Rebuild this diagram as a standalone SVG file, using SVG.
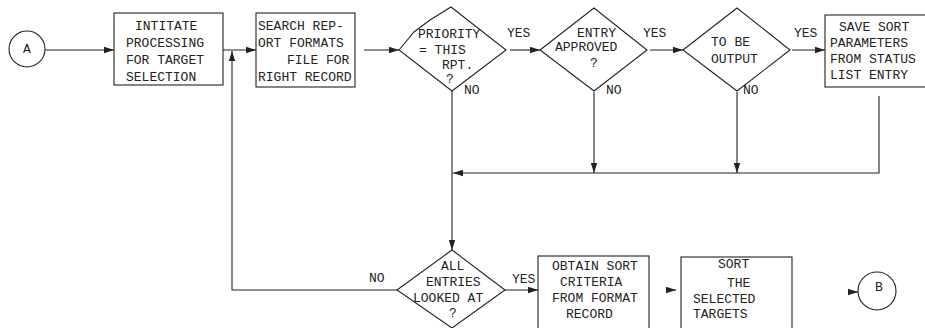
<svg xmlns="http://www.w3.org/2000/svg" width="925" height="328" viewBox="0 0 925 328">
<style>
  .shape { fill: none; stroke: #222; stroke-width: 1.1; }
  .line { fill: none; stroke: #222; stroke-width: 1.1; }
  .t { font-family: "Liberation Mono", "Courier New", monospace; font-size: 13px; fill: #222; }
  .c { text-anchor: middle; }
</style>
<defs>
  <marker id="arr" markerUnits="userSpaceOnUse" markerWidth="10" markerHeight="8" refX="10" refY="4" orient="auto">
    <path d="M0,0.8 L10,4 L0,7.2 Z" fill="#222"/>
  </marker>
</defs>
<rect width="925" height="328" fill="#fff"/>

<g id="connectors">
  <line class="line" x1="45" y1="50" x2="114" y2="50" marker-end="url(#arr)"/>
  <line class="line" x1="223" y1="50" x2="256" y2="50" marker-end="url(#arr)"/>
  <line class="line" x1="364" y1="50" x2="399" y2="50" marker-end="url(#arr)"/>
  <line class="line" x1="510" y1="50" x2="540" y2="50" marker-end="url(#arr)"/>
  <line class="line" x1="650" y1="50" x2="683" y2="50" marker-end="url(#arr)"/>
  <line class="line" x1="792" y1="50" x2="825" y2="50" marker-end="url(#arr)"/>
  <line class="line" x1="452" y1="91" x2="452" y2="250" marker-end="url(#arr)"/>
  <line class="line" x1="594" y1="92" x2="594" y2="173" marker-end="url(#arr)"/>
  <line class="line" x1="737" y1="92" x2="737" y2="173" marker-end="url(#arr)"/>
  <polyline class="line" points="879,96 879,173 453,173" marker-end="url(#arr)"/>
  <polyline class="line" points="397,290 232,290 232,51" marker-end="url(#arr)"/>
  <line class="line" x1="505" y1="290" x2="538" y2="290" marker-end="url(#arr)"/>
  <line class="line" x1="669" y1="290" x2="676" y2="290" marker-end="url(#arr)"/>
  <line class="line" x1="849" y1="292" x2="858" y2="292" marker-end="url(#arr)"/>
  <text class="t" x="507" y="37">YES</text>
  <text class="t" x="643" y="37">YES</text>
  <text class="t" x="794" y="37">YES</text>
  <text class="t" x="464" y="94">NO</text>
  <text class="t" x="606" y="94">NO</text>
  <text class="t" x="743" y="94">NO</text>
  <text class="t" x="369" y="282">NO</text>
  <text class="t" x="512" y="283">YES</text>
</g>

<g id="nodeA">
  <circle class="shape" cx="27" cy="49" r="18"/>
  <text class="t c" x="27" y="53">A</text>
</g>

<g id="initiate">
  <rect class="shape" x="114" y="13" width="109" height="72"/>
  <text class="t" x="135" y="30">INTITATE</text>
  <text class="t" x="126" y="47">PROCESSING</text>
  <text class="t" x="126" y="64">FOR TARGET</text>
  <text class="t" x="126" y="81">SELECTION</text>
</g>

<g id="search">
  <rect class="shape" x="256" y="13" width="99" height="74"/>
  <text class="t" x="258" y="30">SEARCH REP-</text>
  <text class="t" x="258" y="47">ORT FORMATS</text>
  <text class="t" x="287" y="64">FILE FOR</text>
  <text class="t" x="258" y="81">RIGHT RECORD</text>
</g>

<g id="priority">
  <polygon class="shape" points="399,50 414,32 430,20 451,7 506,50 452,91"/>
  <text class="t" x="418" y="38">PRIORITY</text>
  <text class="t" x="419" y="54">= THIS</text>
  <text class="t" x="442" y="69">RPT.</text>
  <text class="t" x="446" y="83">?</text>
</g>

<g id="approved">
  <polygon class="shape" points="540,50 594,8 647,50 594,91"/>
  <text class="t" x="577" y="37">ENTRY</text>
  <text class="t" x="555" y="51">APPROVED</text>
  <text class="t" x="590" y="67">?</text>
</g>

<g id="output">
  <polygon class="shape" points="683,50 737,8 790,50 737,91"/>
  <text class="t" x="711" y="46">TO BE</text>
  <text class="t" x="711" y="63">OUTPUT</text>
</g>

<g id="save">
  <rect class="shape" x="825" y="15" width="115" height="72"/>
  <text class="t" x="839" y="31">SAVE SORT</text>
  <text class="t" x="830" y="47">PARAMETERS</text>
  <text class="t" x="830" y="63">FROM STATUS</text>
  <text class="t" x="830" y="79">LIST ENTRY</text>
</g>

<g id="allEntries">
  <polygon class="shape" points="397,290 452,250 505,290 452,328"/>
  <text class="t" x="441" y="270">ALL</text>
  <text class="t" x="426" y="286">ENTRIES</text>
  <text class="t" x="413" y="302">LOOKED AT</text>
  <text class="t" x="449" y="317">?</text>
</g>

<g id="obtain">
  <rect class="shape" x="538" y="256" width="111" height="80"/>
  <text class="t" x="552" y="270">OBTAIN SORT</text>
  <text class="t" x="560" y="286">CRITERIA</text>
  <text class="t" x="552" y="302">FROM FORMAT</text>
  <text class="t" x="566" y="318">RECORD</text>
</g>

<g id="sort">
  <rect class="shape" x="681" y="257" width="111" height="80"/>
  <text class="t" x="718" y="268">SORT</text>
  <text class="t" x="727" y="287">THE</text>
  <text class="t" x="693" y="303">SELECTED</text>
  <text class="t" x="693" y="318">TARGETS</text>
</g>

<g id="nodeB">
  <circle class="shape" cx="877" cy="291" r="19"/>
  <text class="t c" x="879" y="291">B</text>
</g>
</svg>
